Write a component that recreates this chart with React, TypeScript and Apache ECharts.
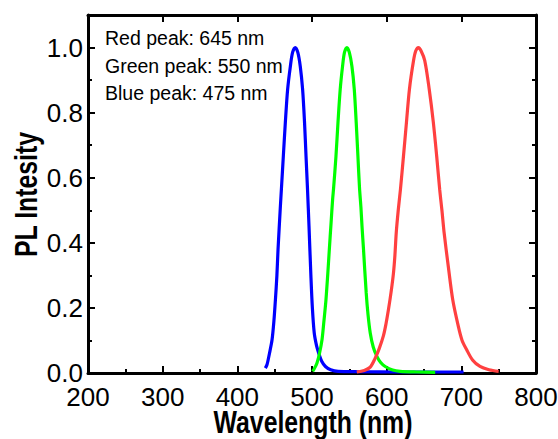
import React, { useEffect, useRef } from "react";
import * as echarts from "echarts";

const blueWavelength = [437.5, 439.8, 443, 446.5, 449, 451, 453, 454.5, 457.6, 459, 461.6, 464.3, 467.4, 471, 474, 477.6, 481, 484.3, 487.4, 490, 492, 494, 496, 498.5, 500.5, 503, 506, 509, 513, 518, 525, 535, 560, 620, 703];
const blueIntensity = [0.015, 0.026, 0.06, 0.102, 0.16, 0.225, 0.3, 0.379, 0.51, 0.564, 0.666, 0.77, 0.872, 0.942, 0.985, 1.0, 0.985, 0.942, 0.872, 0.77, 0.666, 0.564, 0.45, 0.3, 0.2, 0.123, 0.085, 0.061, 0.036, 0.02, 0.01, 0.005, 0.004, 0.003, 0.003];

const greenWavelength = [500.8, 503.5, 506.7, 510, 513.4, 516, 518.7, 521, 523.2, 525.5, 527.6, 529, 532.1, 534.8, 537.8, 540.9, 543.5, 546.8, 550, 553.5, 556.6, 559.2, 561.5, 563.6, 565.5, 567, 569, 572.6, 575, 578, 582, 586.9, 592, 598, 608, 618, 640, 665];
const greenIntensity = [0.005, 0.015, 0.031, 0.06, 0.102, 0.16, 0.225, 0.3, 0.379, 0.46, 0.533, 0.57, 0.666, 0.77, 0.872, 0.942, 0.985, 1.0, 0.985, 0.942, 0.872, 0.77, 0.666, 0.57, 0.51, 0.45, 0.379, 0.246, 0.18, 0.123, 0.08, 0.051, 0.032, 0.02, 0.009, 0.005, 0.003, 0.002];

const redWavelength = [560, 570, 578, 584.5, 590, 595.7, 599, 602.4, 606, 609.1, 611, 612.8, 615.5, 618.5, 622.5, 626.5, 630.5, 636, 639, 642.6, 646, 651, 657, 662.5, 667, 671, 674, 677, 682.5, 688.5, 696, 701, 707, 715, 725, 737, 750];
const redIntensity = [0.003, 0.008, 0.018, 0.045, 0.075, 0.115, 0.15, 0.195, 0.25, 0.307, 0.36, 0.43, 0.5, 0.565, 0.666, 0.77, 0.872, 0.96, 0.99, 1.0, 0.99, 0.96, 0.872, 0.77, 0.666, 0.564, 0.5, 0.43, 0.328, 0.225, 0.143, 0.1, 0.072, 0.04, 0.02, 0.01, 0.005];

const annotations = ["Red peak: 645 nm", "Green peak: 550 nm", "Blue peak: 475 nm"];
const xTitle = "Wavelength (nm)";
const yTitle = "PL Intesity";

const pairs = (xs: number[], ys: number[]) => xs.map((x, i) => [x, ys[i]]);

const FONT = "'Liberation Sans', Arial, sans-serif";

export default function App() {
  const ref = useRef<HTMLDivElement>(null);
  useEffect(() => {
    if (!ref.current) return;
    const chart = echarts.init(ref.current, undefined, { renderer: "svg" });
    const line = { show: true, onZero: false, lineStyle: { color: "#000", width: 3 } };
    const majorTick = { show: true, inside: true, length: 7, lineStyle: { color: "#000", width: 2 } };
    const minorTickAxis = (pos: string) => ({
      type: "value",
      position: pos,
      min: 0,
      max: 1.1,
      interval: 0.1,
      axisLine: { show: false, onZero: false },
      axisTick: { show: true, inside: true, length: 4, lineStyle: { color: "#000", width: 2 } },
      axisLabel: { show: false },
      splitLine: { show: false },
    });
    const titleStyle = { fontSize: 31, fontWeight: "bold", fontFamily: FONT, fill: "#000", align: "center", verticalAlign: "middle" };
    chart.setOption({
      animation: false,
      backgroundColor: "#fff",
      grid: { left: 88, right: 22, top: 15, bottom: 66, outerBoundsMode: "none" },
      xAxis: [
        {
          type: "value",
          position: "bottom",
          min: 200,
          max: 800,
          interval: 100,
          axisLine: line,
          axisTick: majorTick,
          minorTick: { show: true, splitNumber: 2, length: 4, lineStyle: { color: "#000", width: 2 } },
          axisLabel: { fontSize: 26, lineHeight: 22, color: "#000", fontFamily: FONT, margin: 13 },
          splitLine: { show: false },
        },
        {
          type: "value",
          position: "top",
          min: 200,
          max: 800,
          interval: 100,
          axisLine: line,
          axisTick: majorTick,
          axisLabel: { show: false },
          splitLine: { show: false },
        },
      ],
      yAxis: [
        {
          type: "value",
          position: "left",
          min: 0,
          max: 1.1,
          interval: 0.2,
          axisLine: line,
          axisTick: majorTick,
          axisLabel: {
            fontSize: 26,
            lineHeight: 20,
            color: "#000",
            fontFamily: FONT,
            margin: 5,
            formatter: (v: number) => (v > 1.05 ? "" : v.toFixed(1)),
          },
          splitLine: { show: false },
        },
        {
          type: "value",
          position: "right",
          min: 0,
          max: 1.1,
          interval: 0.2,
          axisLine: line,
          axisTick: majorTick,
          axisLabel: { show: false },
          splitLine: { show: false },
        },
        minorTickAxis("right"),
        minorTickAxis("left"),
      ],
      graphic: [
        ...annotations.map((t, i) => ({
          type: "text",
          x: 105,
          y: 38 + i * 27.5,
          style: { text: t, fontSize: 19.5, fontFamily: FONT, fill: "#000", verticalAlign: "middle", align: "left" },
        })),
        { type: "text", x: 313, y: 422.5, scaleX: 0.8, style: { ...titleStyle, text: xTitle } },
        { type: "text", x: 27, y: 194.5, rotation: Math.PI / 2, scaleX: 0.8, style: { ...titleStyle, text: yTitle } },
      ],
      series: [
        { type: "line", data: pairs(blueWavelength, blueIntensity), color: "#0000ff" },
        { type: "line", data: pairs(greenWavelength, greenIntensity), color: "#00ff00" },
        { type: "line", data: pairs(redWavelength, redIntensity), color: "#ff4040" },
      ].map((s) => ({ ...s, smooth: 0.3, showSymbol: false, lineStyle: { width: 3.2 }, xAxisIndex: 0, yAxisIndex: 0 })),
    });
    return () => chart.dispose();
  }, []);
  return <div ref={ref} style={{ position: "fixed", left: 0, top: 0, width: 558, height: 439 }} />;
}
